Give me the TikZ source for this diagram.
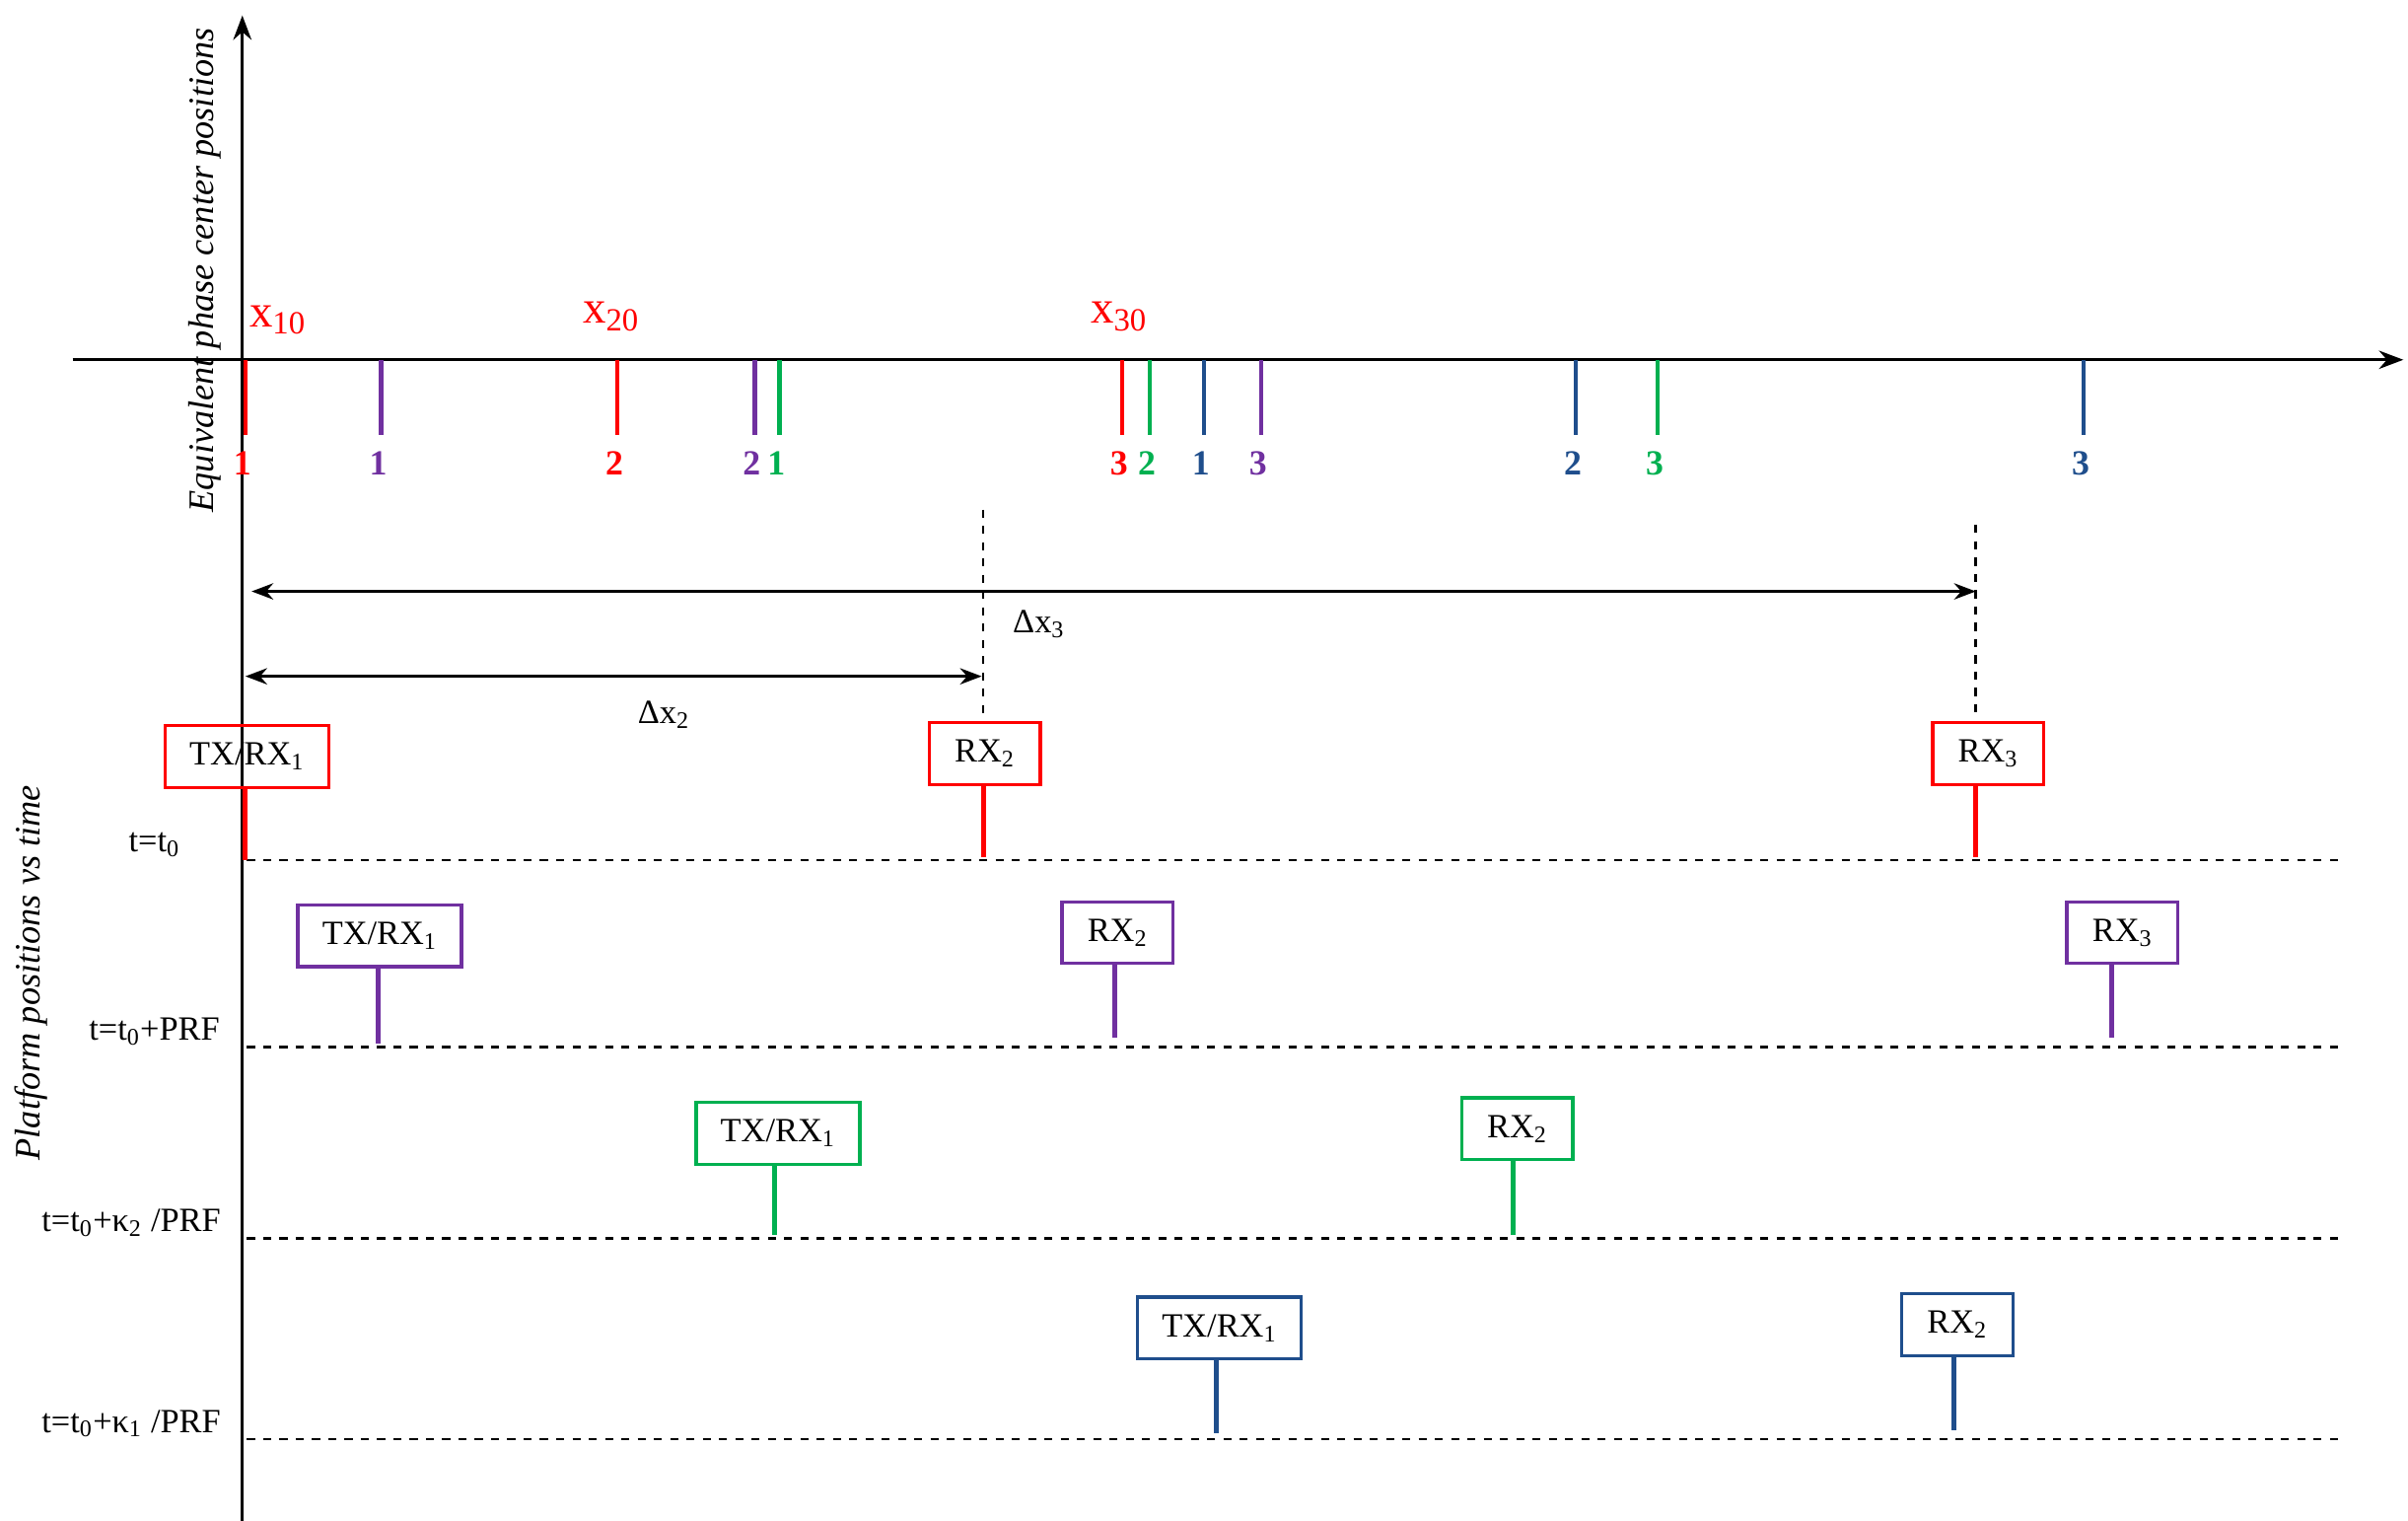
\documentclass[tikz,border=0pt]{standalone}
\usepackage{fontspec}
\setmainfont{Liberation Serif}
\usetikzlibrary{arrows.meta}
\definecolor{cr}{RGB}{255,0,0}
\definecolor{cp}{RGB}{112,48,160}
\definecolor{cg}{RGB}{0,176,80}
\definecolor{cb}{RGB}{31,78,140}
\begin{document}
\begin{tikzpicture}[x=0.02cm,y=-0.02cm,
 font=\fontsize{12.5}{15}\selectfont,
 box/.style={draw,line width=1.2pt,inner sep=0pt,minimum height=0.8cm,text=black},
 bw/.style={box,minimum width=2.12cm},
 bn/.style={box,minimum width=1.44cm},
 stem/.style={line width=1.8pt},
 tick/.style={line width=1.6pt},
 tl/.style={font=\fontsize{13}{15}\selectfont\bfseries},
 dl/.style={dashed,line width=0.9pt},
 xl/.style={text=cr,font=\fontsize{17}{19}\selectfont}]
\useasboundingbox (0,0) rectangle (1560,985);
% axes
\coordinate (vb) at (157,985); \coordinate (vt) at (157,10);
\coordinate (hl) at (47,233); \coordinate (hr) at (1557,233);
\draw[line width=1pt,-{Stealth[length=9pt]}] (vb) -- (vt);
\draw[line width=1pt,-{Stealth[length=9pt]}] (hl) -- (hr);
\node[rotate=90,font=\fontsize{13.2}{15}\selectfont\itshape] (ylab) at (133,175) {Equivalent phase center positions};
\node[rotate=90,font=\fontsize{13.2}{15}\selectfont\itshape] (plab) at (20,630) {Platform positions vs time};
% ticks
\foreach \x/\c/\l in {159/cr/1,247/cp/1,400/cr/2,489/cp/2,505/cg/1,727/cr/3,745/cg/2,780/cb/1,817/cp/3,1021/cb/2,1074/cg/3,1350/cb/3}{
 \draw[tick,\c] (\x,233) -- (\x,282);
 \node[tl,text=\c] at (\x-2,300) {\l};}
\node[xl] (x10) at (180,207) {x\textsubscript{10}};
\node[xl] (x20) at (396,205) {x\textsubscript{20}};
\node[xl] (x30) at (725,205) {x\textsubscript{30}};
% dashed verticals and delta arrows
\coordinate (d2t) at (637,330); \coordinate (d2b) at (637,465);
\coordinate (d3t) at (1280,340); \coordinate (d3b) at (1280,465);
\draw[dl] (d2t) -- (d2b); \draw[dl] (d3t) -- (d3b);
\coordinate (a3l) at (163,383); \coordinate (a3r) at (1280,383);
\coordinate (a2l) at (159,438); \coordinate (a2r) at (636,438);
\draw[line width=1pt,{Stealth[length=8pt]}-{Stealth[length=8pt]}] (a3l) -- (a3r);
\draw[line width=1pt,{Stealth[length=8pt]}-{Stealth[length=8pt]}] (a2l) -- (a2r);
\node (dx3) at (673,404) {Δx\textsubscript{3}};
\node (dx2) at (430,463) {Δx\textsubscript{2}};
% rows
\foreach \y/\lab/\lx [count=\i] in {557/{t=t\textsubscript{0}}/100,678/{t=t\textsubscript{0}+PRF}/100,802/{t=t\textsubscript{0}+κ\textsubscript{2} /PRF}/85,932/{t=t\textsubscript{0}+κ\textsubscript{1} /PRF}/85}{
 \coordinate (r\i l) at (160,\y); \coordinate (r\i r) at (1515,\y);
 \draw[dl] (r\i l) -- (r\i r);
 \node (t\i) at (\lx,\y-10) {\lab};}
% row 1 red
\node[bw,draw=cr] (a1) at (160,490) {TX/RX\textsubscript{1}};
\node[bn,draw=cr] (a2) at (638,488) {RX\textsubscript{2}};
\node[bn,draw=cr] (a3) at (1288,488) {RX\textsubscript{3}};
\draw[stem,cr] (a1.south -| 159,0) -- (159,557);
\draw[stem,cr] (a2.south -| 637,0) -- (637,555);
\draw[stem,cr] (a3.south -| 1280,0) -- (1280,555);
% row 2 purple
\node[bw,draw=cp] (b1) at (246,606) {TX/RX\textsubscript{1}};
\node[bn,draw=cp] (b2) at (724,604) {RX\textsubscript{2}};
\node[bn,draw=cp] (b3) at (1375,604) {RX\textsubscript{3}};
\draw[stem,cp] (b1.south -| 245,0) -- (245,676);
\draw[stem,cp] (b2.south -| 722,0) -- (722,672);
\draw[stem,cp] (b3.south -| 1368,0) -- (1368,672);
% row 3 green
\node[bw,draw=cg] (c1) at (504,734) {TX/RX\textsubscript{1}};
\node[bn,draw=cg] (c2) at (983,731) {RX\textsubscript{2}};
\draw[stem,cg] (c1.south -| 502,0) -- (502,800);
\draw[stem,cg] (c2.south -| 980,0) -- (980,800);
% row 4 blue
\node[bw,draw=cb] (e1) at (790,860) {TX/RX\textsubscript{1}};
\node[bn,draw=cb] (e2) at (1268,858) {RX\textsubscript{2}};
\draw[stem,cb] (e1.south -| 788,0) -- (788,928);
\draw[stem,cb] (e2.south -| 1266,0) -- (1266,926);
\end{tikzpicture}
\end{document}
